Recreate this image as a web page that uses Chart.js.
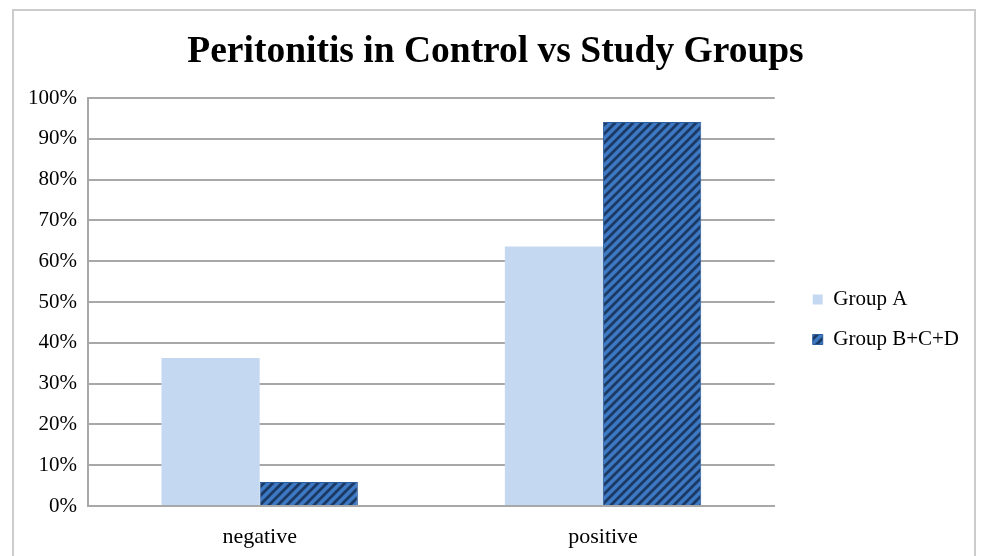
<!DOCTYPE html>
<html>
<head>
<meta charset="utf-8">
<script src="https://cdn.jsdelivr.net/npm/chart.js@4.4.1/dist/chart.umd.min.js"></script>
<style>
  html, body { margin: 0; padding: 0; background: #fff; }
  #wrap { position: relative; width: 982px; height: 556px; overflow: hidden; }
  #frame {
    position: absolute; left: 12px; top: 9px; width: 964px; height: 600px;
    border: 2px solid #cccccc; box-sizing: border-box;
  }
  canvas { position: absolute; left: 0; top: 0; }
</style>
</head>
<body>
<div id="wrap">
  <div id="frame"></div>
  <canvas id="chart" width="982" height="556"></canvas>
</div>
<script>
const categories = ["negative", "positive"];
const groupA = [36.3, 63.6];
const groupBCD = [5.9, 94.1];
const seriesNames = ["Group A", "Group B+C+D"];
const titleText = "Peritonitis in Control vs Study Groups";

const serif = "'Liberation Serif', 'Times New Roman', serif";

// diagonal hatch for the second series
function makeHatch() {
  const c = document.createElement("canvas");
  c.width = 9;
  c.height = 9;
  const g = c.getContext("2d");
  g.fillStyle = "#3d78c3";
  g.fillRect(0, 0, 9, 9);
  g.strokeStyle = "#1b3963";
  g.lineWidth = 2.8;
  g.beginPath();
  g.moveTo(-2, 2); g.lineTo(2, -2);
  g.moveTo(0, 9); g.lineTo(9, 0);
  g.moveTo(7, 11); g.lineTo(11, 7);
  g.stroke();
  return g.createPattern(c, "repeat");
}

const hatch = makeHatch();

// nudge title and legend to where the original has them
const boxShift = {
  id: "boxShift",
  afterLayout(chart) {
    const lg = chart.legend;
    lg.left += 19; lg.right += 19;
    lg.top += 26; lg.bottom += 26;
    const tb = chart.titleBlock;
    tb.left += 12; tb.right += 12;
    tb.top += 1; tb.bottom += 1;
  }
};

new Chart(document.getElementById("chart"), {
  type: "bar",
  data: {
    labels: categories,
    datasets: [
      {
        label: seriesNames[0],
        data: groupA,
        backgroundColor: "#c5d8f1",
        borderWidth: 0,
        categoryPercentage: 0.572,
        barPercentage: 1.0,
      },
      {
        label: seriesNames[1],
        data: groupBCD,
        backgroundColor: hatch,
        borderColor: "#2c5d9c",
        borderWidth: 1,
        categoryPercentage: 0.572,
        barPercentage: 1.0,
      },
    ],
  },
  options: {
    responsive: false,
    animation: false,
    layout: { padding: { top: 19, left: 17, right: 32, bottom: -12 } },
    plugins: {
      title: {
        display: true,
        text: titleText,
        color: "#000",
        font: { family: serif, size: 37.5, weight: "bold" },
        padding: { top: 10, bottom: 24 },
      },
      legend: {
        position: "right",
        labels: {
          color: "#000",
          font: { family: serif, size: 21 },
          boxWidth: 10,
          boxHeight: 10,
          padding: 19,
        },
      },
      tooltip: { enabled: false },
    },
    scales: {
      x: {
        grid: { display: false, drawTicks: false },
        border: { color: "#a8a8a8", width: 2 },
        ticks: { color: "#000", font: { family: serif, size: 22, lineHeight: 1.0 }, padding: 20 },
      },
      y: {
        min: 0,
        max: 100,
        ticks: {
          stepSize: 10,
          color: "#000",
          font: { family: serif, size: 21 },
          padding: 11,
          callback: (v) => v + "%",
        },
        grid: { color: "#a8a8a8", lineWidth: 2, drawTicks: false },
        border: { color: "#a8a8a8", width: 2 },
      },
    },
  },
  plugins: [boxShift],
});
</script>
</body>
</html>
